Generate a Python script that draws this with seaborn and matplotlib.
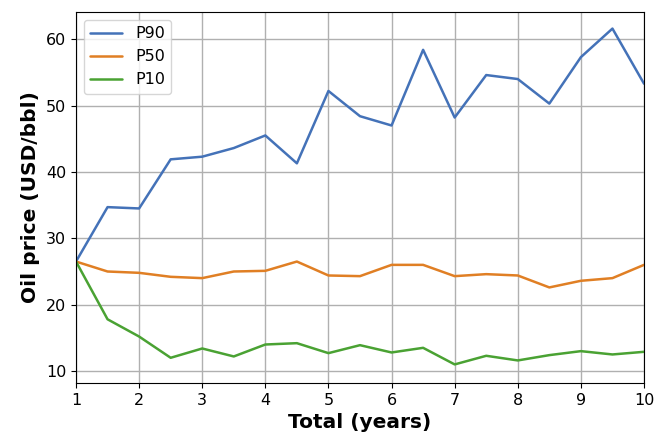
import matplotlib
matplotlib.use("Agg")
import matplotlib.pyplot as plt
import seaborn as sns
import pandas as pd

years = [1, 1.5, 2, 2.5, 3, 3.5, 4, 4.5, 5, 5.5, 6, 6.5, 7, 7.5, 8, 8.5, 9, 9.5, 10]
p90 = [26.5, 34.7, 34.5, 41.9, 42.3, 43.6, 45.5, 41.3, 52.2, 48.4, 47.0, 58.4, 48.2, 54.6, 54.0, 50.3, 57.3, 61.6, 53.3]
p50 = [26.5, 25.0, 24.8, 24.2, 24.0, 25.0, 25.1, 26.5, 24.4, 24.3, 26.0, 26.0, 24.3, 24.6, 24.4, 22.6, 23.6, 24.0, 26.0]
p10 = [26.5, 17.8, 15.2, 12.0, 13.4, 12.2, 14.0, 14.2, 12.7, 13.9, 12.8, 13.5, 11.0, 12.3, 11.6, 12.4, 13.0, 12.5, 12.9]
series = ["P90", "P50", "P10"]
colors = ["#4472b8", "#e07f24", "#4aa233"]

df = pd.concat([
    pd.DataFrame({"year": years, "price": vals, "case": name})
    for name, vals in zip(series, [p90, p50, p10])
])

sns.set_style("ticks", {"text.color": "black", "axes.labelcolor": "black",
                        "xtick.color": "black", "ytick.color": "black",
                        "axes.edgecolor": "black"})
fig = plt.figure(figsize=(6.54, 4.4), dpi=100)
ax = fig.add_axes([76/654, 1 - 383/440, 568/654, 371/440])
sns.lineplot(data=df, x="year", y="price", hue="case", hue_order=series,
             palette=colors, linewidth=1.8, ax=ax)
ax.set_xlim(1, 10)
ax.set_ylim(8.2, 64.1)
ax.set_xticks(range(1, 11))
ax.set_yticks([10, 20, 30, 40, 50, 60])
ax.grid(True, color="#b0b0b0", linewidth=1.0)
ax.tick_params(labelsize=11.5)
ax.set_xlabel("Total (years)", fontsize=14.5, fontweight="bold")
ax.set_ylabel("Oil price (USD/bbl)", fontsize=14.5, fontweight="bold")
leg = ax.legend(loc="upper left", fontsize=11.5, frameon=True)
leg.set_title(None)
fig.savefig("out.png", dpi=100)
